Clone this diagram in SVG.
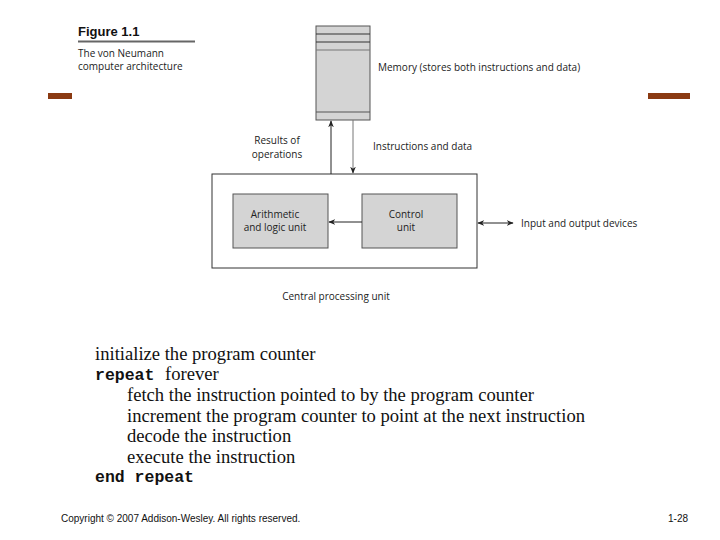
<svg xmlns="http://www.w3.org/2000/svg" width="720" height="540" viewBox="0 0 720 540">
<style>
.s{font-family:"Open Sans","Liberation Sans",sans-serif;font-size:10px;fill:#222}
.box{fill:#d4d4d4;stroke:#555;stroke-width:1}
.ln{stroke:#222;stroke-width:1;fill:none}
.serif{font-family:"Liberation Serif",serif;font-size:18.6px;fill:#111}
.mono{font-family:"Liberation Mono",monospace;font-size:16.5px;font-weight:bold;fill:#111}
</style>
<defs>
<marker id="ah" viewBox="0 0 10 10" refX="9" refY="5" markerWidth="7" markerHeight="7" orient="auto-start-reverse"><path d="M0,1 L10,5 L0,9 L3,5 Z" fill="#222"/></marker>
</defs>
<rect width="720" height="540" fill="#fff"/>
<g id="caption">
<text x="78" y="36" font-family="'Liberation Sans',sans-serif" font-size="13" font-weight="bold" fill="#111">Figure 1.1</text>
<line x1="78" y1="41.5" x2="195" y2="41.5" stroke="#666" stroke-width="2"/>
<text x="78" y="57" class="s">The von Neumann</text>
<text x="78" y="70" class="s">computer architecture</text>
</g>
<rect x="48" y="93" width="24" height="6" fill="#8a3a12"/>
<rect x="648" y="93" width="42" height="6" fill="#8a3a12"/>
<g id="memory">
<rect x="316" y="26" width="54" height="94" class="box"/>
<line x1="316" y1="34" x2="370" y2="34" stroke="#333"/>
<line x1="316" y1="42" x2="370" y2="42" stroke="#333"/>
<line x1="316" y1="50" x2="370" y2="50" stroke="#777"/>
<line x1="316" y1="112" x2="370" y2="112" stroke="#555"/>
<text x="378" y="71" class="s">Memory (stores both instructions and data)</text>
</g>
<g id="cpu">
<rect x="212" y="174" width="265" height="94" fill="#fff" stroke="#333"/>
<text x="336" y="300" class="s" text-anchor="middle">Central processing unit</text>
</g>
<g id="alu">
<rect x="233" y="194" width="95" height="54" class="box"/>
<text x="275" y="218" class="s" text-anchor="middle">Arithmetic</text>
<text x="275" y="231" class="s" text-anchor="middle">and logic unit</text>
</g>
<g id="control">
<rect x="362" y="194" width="95" height="54" class="box"/>
<text x="406" y="218" class="s" text-anchor="middle">Control</text>
<text x="406" y="231" class="s" text-anchor="middle">unit</text>
</g>
<g id="io">
<text x="521" y="227" class="s">Input and output devices</text>
</g>
<g id="connectors">
<line x1="331" y1="174" x2="331" y2="121" class="ln" marker-end="url(#ah)"/>
<line x1="353" y1="120" x2="353" y2="173" stroke="#777" stroke-width="1" marker-end="url(#ah)"/>
<line x1="362" y1="222" x2="329" y2="222" class="ln" marker-end="url(#ah)"/>
<line x1="478" y1="223" x2="513" y2="223" class="ln" marker-start="url(#ah)" marker-end="url(#ah)"/>
<text x="277" y="144" class="s" text-anchor="middle">Results of</text>
<text x="277" y="158" class="s" text-anchor="middle">operations</text>
<text x="373" y="150" class="s">Instructions and data</text>
</g>
<g id="code">
<text x="95" y="360" class="serif">initialize the program counter</text>
<text x="95" y="380" class="mono">repeat</text><text x="165" y="380" class="serif">forever</text>
<text x="127" y="401" class="serif">fetch the instruction pointed to by the program counter</text>
<text x="127" y="422" class="serif">increment the program counter to point at the next instruction</text>
<text x="127" y="442" class="serif">decode the instruction</text>
<text x="127" y="463" class="serif">execute the instruction</text>
<text x="95" y="482" class="mono">end repeat</text>
</g>
<text x="61" y="522" font-family="'Liberation Sans',sans-serif" font-size="10" fill="#111">Copyright © 2007 Addison-Wesley. All rights reserved.</text>
<text x="688" y="522" font-family="'Liberation Sans',sans-serif" font-size="10" fill="#111" text-anchor="end">1-28</text>
</svg>
